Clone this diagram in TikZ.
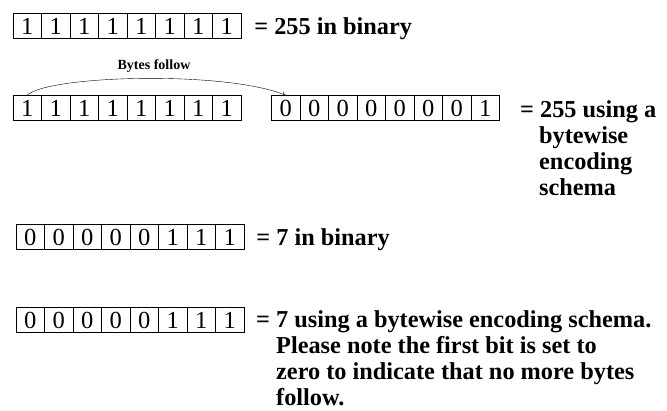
\documentclass[tikz,border=0pt]{standalone}
\usepackage{fontspec}
\setmainfont{Liberation Serif}
\usetikzlibrary{positioning,
        arrows.meta}
\usepackage{xcolor}

\tikzset{bitbox/.style={draw,minimum width=28.5pt,minimum height=25pt,inner sep=0pt,
                font=\fontsize{24.5}{24.5}\selectfont},
        eqtext/.style={anchor=west,inner sep=0pt,align=left,
                font=\bfseries\fontsize{24.3}{26.3}\selectfont}}

\begin{document}
\begin{tikzpicture}[x=1pt,y=-1pt]
        \useasboundingbox (0,0) rectangle (667,410);

        % 255 in binary
        \foreach \b [count=\i] in {1,1,1,1,1,1,1,1}
                \node [bitbox] (a\i) at (-1.25+28.5*\i,26) {\b};
        \node [eqtext,right=13pt of a8,yshift=-3pt] (bin255) {= 255 in binary};

        % 255 bytewise
        \foreach \b [count=\i] in {1,1,1,1,1,1,1,1}
                \node [bitbox] (b\i) at (-1.25+28.5*\i,108) {\b};
        \foreach \b [count=\i] in {0,0,0,0,0,0,0,1}
                \node [bitbox] (c\i) at (257.25+28.5*\i,108) {\b};
        \node [eqtext,anchor=north west] (enc255) at (520,100)
                {= 255 using a\\\hspace*{19pt}bytewise\\\hspace*{19pt}encoding\\\hspace*{19pt}schema};
        \node [font=\bfseries\fontsize{14}{14}\selectfont] (follow) at (154,66) {Bytes follow};
        \draw [-{To[length=4pt,width=5pt]}] (b1.north) .. controls +(20,-20) and +(-60,-25) .. (c1.north);

        % 7 in binary
        \foreach \b [count=\i] in {0,0,0,0,0,1,1,1}
                \node [bitbox] (d\i) at (1.75+28.5*\i,237) {\b};
        \node [eqtext,right=12pt of d8,yshift=-3pt] (bin7) {= 7 in binary};

        % 7 bytewise
        \foreach \b [count=\i] in {0,0,0,0,0,1,1,1}
                \node [bitbox] (e\i) at (1.75+28.5*\i,320) {\b};
        \node [eqtext,anchor=north west] (enc7) at (256,310)
                {= 7 using a bytewise encoding schema.\\\hspace*{20pt}Please note the first bit is set to\\\hspace*{20pt}zero to indicate that no more bytes\\\hspace*{20pt}follow.};
\end{tikzpicture}
\end{document}
